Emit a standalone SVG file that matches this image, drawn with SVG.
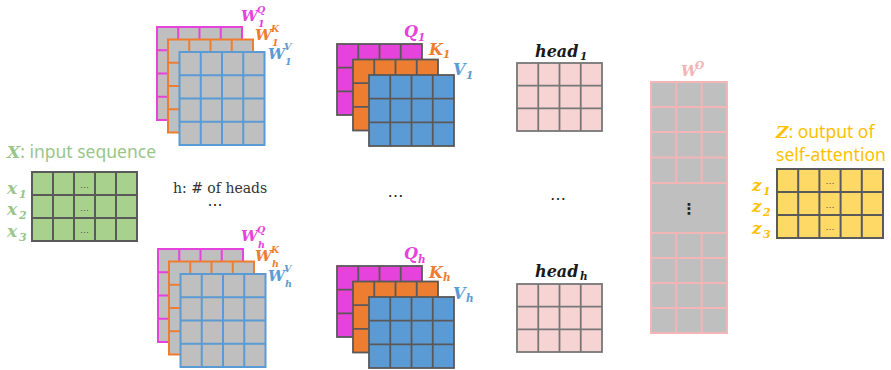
<svg xmlns="http://www.w3.org/2000/svg" width="891" height="370" viewBox="0 0 891 370">
<style>
.m{font-family:"DejaVu Serif",serif;font-weight:bold;font-style:italic}
.s{font-family:"Noto Sans","Open Sans",sans-serif}
.d{font-family:"DejaVu Sans",sans-serif;text-anchor:middle}
.wg{fill:#bfbfbf;stroke-width:2}
.dk{stroke:#595959;stroke-width:1.8}
.pk{fill:#e642dc}
.or{fill:#ed7d31}
.bl{fill:#5b9bd5}
</style>
<defs>
<g id="gW"><rect x="0" y="0" width="85" height="93"/><path fill="none" d="M21.25 0V93M42.5 0V93M63.75 0V93M0 23.25H85M0 46.5H85M0 69.75H85"/></g>
<g id="gQ"><rect x="0" y="0" width="85" height="71"/><path fill="none" d="M21.25 0V71M42.5 0V71M63.75 0V71M0 23.67H85M0 47.33H85"/></g>
<g id="gH"><rect x="0" y="0" width="85" height="68"/><path fill="none" d="M21.25 0V68M42.5 0V68M63.75 0V68M0 22.67H85M0 45.33H85"/></g>
<g id="gX"><rect x="0" y="0" width="105" height="69"/><path fill="none" d="M21 0V69M42 0V69M63 0V69M84 0V69M0 23H105M0 46H105"/></g>
<g id="gZ"><rect x="0" y="0" width="106" height="69"/><path fill="none" d="M21.2 0V69M42.4 0V69M63.6 0V69M84.8 0V69M0 23H106M0 46H106"/></g>
</defs>
<rect width="891" height="370" fill="#ffffff"/>

<g id="X">
<use href="#gX" x="32" y="172" fill="#a9d18e" stroke="#5a5a5a" stroke-width="2"/>
<g class="d" font-size="9" fill="#555">
<text x="84.5" y="187.5">…</text><text x="84.5" y="211">…</text><text x="84.5" y="233">…</text>
</g>
<text fill="#99c68a"><tspan class="m" x="7" y="158" font-size="17">X</tspan><tspan class="s" font-size="17.5">: input sequence</tspan></text>
<g class="m" fill="#99c68a">
<text x="7" y="194" font-size="17">x</text><text x="19" y="198" font-size="11">1</text>
<text x="7" y="215" font-size="17">x</text><text x="19" y="219" font-size="11">2</text>
<text x="7" y="237" font-size="17">x</text><text x="19" y="241" font-size="11">3</text>
</g>
</g>

<g id="W1">
<use href="#gW" x="157" y="27" class="wg" stroke="#e642dc"/>
<use href="#gW" x="168" y="39.5" class="wg" stroke="#ed7d31"/>
<use href="#gW" x="179.5" y="52" class="wg" stroke="#5b9bd5"/>
<text class="m pk"><tspan x="241" y="21" font-size="15">W</tspan><tspan x="257" y="13" font-size="9.5">Q</tspan><tspan x="258" y="27" font-size="9.5">1</tspan></text>
<text class="m or"><tspan x="255" y="40" font-size="15">W</tspan><tspan x="271" y="32" font-size="9.5">K</tspan><tspan x="272" y="46" font-size="9.5">1</tspan></text>
<text class="m bl"><tspan x="268" y="59" font-size="15">W</tspan><tspan x="284" y="50" font-size="9.5">V</tspan><tspan x="285" y="65" font-size="9.5">1</tspan></text>
</g>

<g id="Wh">
<use href="#gW" x="158" y="249" class="wg" stroke="#e642dc"/>
<use href="#gW" x="169" y="261.5" class="wg" stroke="#ed7d31"/>
<use href="#gW" x="180.5" y="274" class="wg" stroke="#5b9bd5"/>
<text class="m pk"><tspan x="241" y="241" font-size="15">W</tspan><tspan x="257" y="233" font-size="9.5">Q</tspan><tspan x="258" y="248" font-size="9.5">h</tspan></text>
<text class="m or"><tspan x="255" y="261" font-size="15">W</tspan><tspan x="271" y="253" font-size="9.5">K</tspan><tspan x="272" y="267" font-size="9.5">h</tspan></text>
<text class="m bl"><tspan x="268" y="281" font-size="15">W</tspan><tspan x="284" y="272" font-size="9.5">V</tspan><tspan x="285" y="287" font-size="9.5">h</tspan></text>
</g>

<g id="QKV1">
<use href="#gQ" x="337" y="44" class="dk pk"/>
<use href="#gQ" x="353" y="59.5" class="dk or"/>
<use href="#gQ" x="369" y="75" class="dk bl"/>
<text class="m pk"><tspan x="404" y="37" font-size="16">Q</tspan><tspan x="418" y="41" font-size="10.5">1</tspan></text>
<text class="m or"><tspan x="429" y="55" font-size="16">K</tspan><tspan x="443" y="58" font-size="10.5">1</tspan></text>
<text class="m bl"><tspan x="453" y="75" font-size="16">V</tspan><tspan x="466" y="79" font-size="10.5">1</tspan></text>
</g>

<g id="QKVh">
<use href="#gQ" x="337" y="266" class="dk pk"/>
<use href="#gQ" x="353" y="281.5" class="dk or"/>
<use href="#gQ" x="369" y="297" class="dk bl"/>
<text class="m pk"><tspan x="404" y="259" font-size="16">Q</tspan><tspan x="418" y="263" font-size="10.5">h</tspan></text>
<text class="m or"><tspan x="429" y="278" font-size="16">K</tspan><tspan x="443" y="281" font-size="10.5">h</tspan></text>
<text class="m bl"><tspan x="453" y="299" font-size="16">V</tspan><tspan x="466" y="302" font-size="10.5">h</tspan></text>
</g>

<g id="head1">
<use href="#gH" x="517" y="63" fill="#f7d4d4" stroke="#777" stroke-width="1.8"/>
<text class="m" fill="#1a1a1a"><tspan x="535" y="57" font-size="16">head</tspan><tspan x="580" y="60" font-size="10.5">1</tspan></text>
</g>

<g id="headh">
<use href="#gH" x="517" y="284" fill="#f7d4d4" stroke="#777" stroke-width="1.8"/>
<text class="m" fill="#1a1a1a"><tspan x="535" y="277" font-size="16">head</tspan><tspan x="580" y="280" font-size="10.5">h</tspan></text>
</g>

<g id="WO">
<rect x="651" y="82" width="76" height="251" fill="#bfbfbf" stroke="#f2b6b6" stroke-width="2"/>
<path fill="none" stroke="#f2b6b6" stroke-width="2" d="M676.3 82V183M701.7 82V183M676.3 233V333M701.7 233V333M651 107H727M651 132H727M651 157.5H727M651 183H727M651 233H727M651 258H727M651 283H727M651 308H727"/>
<text class="d" x="689" y="214" font-size="15" font-weight="bold" fill="#222">⋮</text>
<text class="m" fill="#f4b4b4"><tspan x="681" y="76" font-size="15">W</tspan><tspan x="695" y="69" font-size="10.5">O</tspan></text>
</g>

<g id="Z">
<use href="#gZ" x="777" y="169" fill="#ffd966" stroke="#5a5a5a" stroke-width="2"/>
<g class="d" font-size="9" fill="#555">
<text x="830" y="184">…</text><text x="830" y="208">…</text><text x="830" y="230">…</text>
</g>
<text fill="#ffc000"><tspan class="m" x="776" y="138" font-size="17">Z</tspan><tspan class="s" font-size="17.5">: output of</tspan></text>
<text class="s" fill="#ffc000" x="776" y="161" font-size="17.5">self-attention</text>
<g class="m" fill="#ffc000">
<text x="752" y="191" font-size="17">z</text><text x="763" y="195" font-size="11">1</text>
<text x="752" y="212" font-size="17">z</text><text x="763" y="216" font-size="11">2</text>
<text x="752" y="234" font-size="17">z</text><text x="763" y="238" font-size="11">3</text>
</g>
</g>

<g id="notes">
<text x="173" y="193" font-family="DejaVu Serif,serif" font-size="14" fill="#333">h: # of heads</text>
<text class="d" x="215" y="206" font-size="15" fill="#222">…</text>
<text class="d" x="395.5" y="197" font-size="16" fill="#222">…</text>
<text class="d" x="558" y="199.5" font-size="16" fill="#222">…</text>
</g>

<g id="connectors"/>
</svg>
